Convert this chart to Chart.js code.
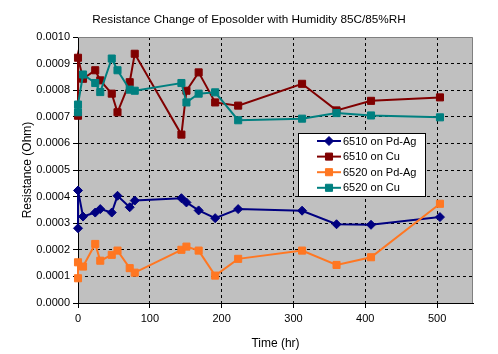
<!DOCTYPE html>
<html>
<head>
<meta charset="utf-8">
<script src="https://cdn.jsdelivr.net/npm/chart.js@4.4.1/dist/chart.umd.min.js"></script>
<style>
  html, body { margin: 0; padding: 0; background: #ffffff; }
  canvas { display: block; }
</style>
</head>
<body>
<canvas id="c" width="498" height="354"></canvas>
<script>
// ---- data ----
const chartTitle = 'Resistance Change of Eposolder with Humidity 85C/85%RH';
const xTitle = 'Time (hr)';
const yTitle = 'Resistance (Ohm)';
const seriesNames = ['6510 on Pd-Ag', '6510 on Cu', '6520 on Pd-Ag', '6520 on Cu'];
const hours = [0, 0, 7, 24, 31, 47, 55, 72, 79, 144, 151, 168, 191, 223, 312, 360, 408, 504];
const s6510PdAg = [0.000281, 0.000423, 0.000325, 0.000340, 0.000353, 0.000340, 0.000403, 0.000360, 0.000385,
                   0.000394, 0.000378, 0.000348, 0.000319, 0.000353, 0.000347, 0.000296, 0.000294, 0.000323];
const s6510Cu   = [0.000704, 0.000922, 0.000843, 0.000875, 0.000837, 0.000787, 0.000717, 0.000830, 0.000937,
                   0.000633, 0.000798, 0.000867, 0.000754, 0.000742, 0.000824, 0.000724, 0.000760, 0.000773];
const s6520PdAg = [0.000093, 0.000153, 0.000137, 0.000222, 0.000159, 0.000181, 0.000197, 0.000131, 0.000114,
                   0.000200, 0.000212, 0.000197, 0.000103, 0.000166, 0.000197, 0.000143, 0.000172, 0.000373];
const s6520Cu   = [0.000717, 0.000746, 0.000859, 0.000827, 0.000793, 0.000919, 0.000875, 0.000802, 0.000798,
                   0.000827, 0.000754, 0.000787, 0.000792, 0.000687, 0.000693, 0.000714, 0.000705, 0.000698];
const xTickValues = [0, 100, 200, 300, 400, 500];
const yTickValues = [0, 0.0001, 0.0002, 0.0003, 0.0004, 0.0005, 0.0006, 0.0007, 0.0008, 0.0009, 0.0010];

// ---- styles ----
const FONT = "'Liberation Sans', Arial, sans-serif";
const seriesValues = [s6510PdAg, s6510Cu, s6520PdAg, s6520Cu];
const colors = ['#000080', '#800000', '#FF7722', '#008080'];
const pStyles = ['rectRot', 'rect', 'rect', 'rect'];
const pRadius = [4.5, 5, 5, 5];

const datasets = seriesValues.map((vals, i) => ({
  label: seriesNames[i],
  data: hours.map((h, k) => ({ x: h, y: vals[k] })),
  showLine: true,
  borderColor: colors[i],
  backgroundColor: colors[i],
  borderWidth: 2,
  pointStyle: pStyles[i],
  pointRadius: pRadius[i],
  pointBorderWidth: 1,
  pointBorderColor: colors[i],
  pointBackgroundColor: colors[i],
  tension: 0,
  clip: false,
  order: 3 - i
}));

const bgPlugin = {
  id: 'bg',
  beforeDraw(chart) {
    const { ctx, chartArea: a } = chart;
    ctx.save();
    ctx.fillStyle = '#ffffff';
    ctx.fillRect(0, 0, chart.width, chart.height);
    ctx.fillStyle = '#c0c0c0';
    ctx.fillRect(a.left, a.top, a.right - a.left, a.bottom - a.top);
    ctx.restore();
  },
  beforeDatasetsDraw(chart) {
    const { ctx, chartArea: a } = chart;
    ctx.save();
    ctx.strokeStyle = '#808080';
    ctx.lineWidth = 1;
    ctx.beginPath();
    ctx.moveTo(a.left, a.top + 0.5);
    ctx.lineTo(a.right - 0.5, a.top + 0.5);
    ctx.lineTo(a.right - 0.5, a.bottom);
    ctx.stroke();
    ctx.restore();
  },
  afterDraw(chart) {
    const { ctx } = chart;
    ctx.save();
    ctx.fillStyle = '#000000';
    ctx.font = '11.75px ' + FONT;
    ctx.textAlign = 'center';
    ctx.textBaseline = 'middle';
    ctx.fillText(chartTitle, chart.width / 2, 20);
    ctx.restore();
  }
};

const legendPlugin = {
  id: 'boxLegend',
  afterDraw(chart) {
    const { ctx } = chart;
    const bx = 298, by = 133, bw = 127, bh = 63;
    ctx.save();
    ctx.fillStyle = '#ffffff';
    ctx.fillRect(bx, by, bw, bh);
    ctx.strokeStyle = '#000000';
    ctx.lineWidth = 1;
    ctx.strokeRect(bx + 0.5, by + 0.5, bw, bh);
    ctx.font = '11px ' + FONT;
    ctx.textBaseline = 'middle';
    ctx.textAlign = 'left';
    chart.data.datasets.forEach((ds, i) => {
      const cy = by + 8 + i * 15.6;
      ctx.strokeStyle = ds.borderColor;
      ctx.lineWidth = 2;
      ctx.beginPath();
      ctx.moveTo(317, cy);
      ctx.lineTo(341, cy);
      ctx.stroke();
      ctx.fillStyle = ds.pointBackgroundColor;
      ctx.strokeStyle = ds.pointBorderColor;
      ctx.lineWidth = 1;
      Chart.helpers.drawPoint(ctx, { pointStyle: ds.pointStyle, radius: ds.pointRadius, rotation: 0, borderWidth: 1 }, 329, cy);
      ctx.fillStyle = '#000000';
      ctx.fillText(ds.label, 343, cy + 0.5);
    });
    ctx.restore();
  }
};

new Chart(document.getElementById('c'), {
  type: 'scatter',
  data: { datasets },
  options: {
    responsive: false,
    animation: false,
    devicePixelRatio: 1,
    layout: { padding: { left: 0, right: 25, top: 37, bottom: 0 } },
    plugins: {
      legend: { display: false },
      tooltip: { enabled: false },
      title: { display: false }
    },
    scales: {
      x: {
        type: 'linear',
        min: 0,
        max: 550,
        afterBuildTicks: s => { s.ticks = xTickValues.map(v => ({ value: v })); },
        afterFit: s => { s.height = 51; },
        ticks: { color: '#000000', font: { family: FONT, size: 11 }, padding: 4, maxRotation: 0, callback: v => String(v) },
        grid: { color: '#000000', lineWidth: 1, tickLength: 5, tickBorderDash: [], drawOnChartArea: true },
        border: { display: true, color: '#000000', width: 1, dash: [3, 3] },
        title: { display: true, text: xTitle, color: '#000000', font: { family: FONT, size: 12 }, padding: { top: 4, bottom: 3 } }
      },
      y: {
        type: 'linear',
        min: 0,
        max: 0.001,
        afterBuildTicks: s => { s.ticks = yTickValues.map(v => ({ value: v })); },
        afterFit: s => { s.width = 78; },
        ticks: { color: '#000000', font: { family: FONT, size: 11 }, padding: 3, callback: v => Number(v).toFixed(4) },
        grid: { color: '#000000', lineWidth: 1, tickLength: 5, tickBorderDash: [], drawOnChartArea: true },
        border: { display: true, color: '#000000', width: 1, dash: [3, 3] },
        title: { display: true, text: yTitle, color: '#000000', font: { family: FONT, size: 12 }, padding: { top: 20, bottom: 0 } }
      }
    }
  },
  plugins: [bgPlugin, legendPlugin]
});
</script>
</body>
</html>
